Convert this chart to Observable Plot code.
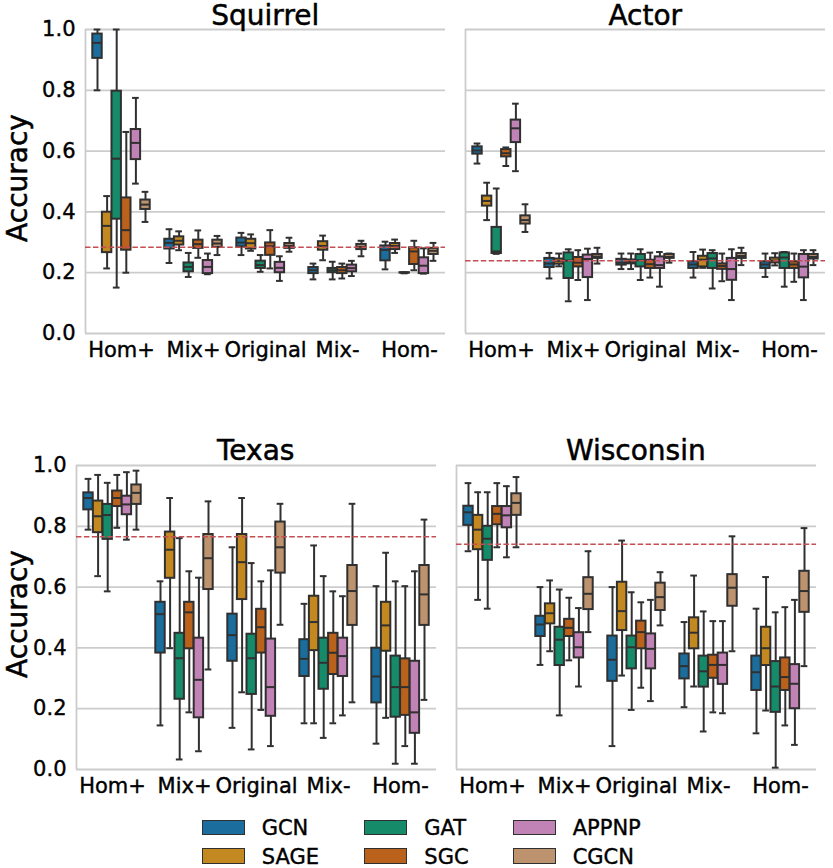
<!DOCTYPE html>
<html>
<head>
<meta charset="utf-8">
<script src="https://cdn.jsdelivr.net/npm/d3@7"></script>
<script src="https://cdn.jsdelivr.net/npm/@observablehq/plot@0.6"></script>
<style>
  html, body { margin: 0; padding: 0; background: #fff; }
  #root { position: relative; width: 833px; height: 868px; overflow: hidden; font-family: "DejaVu Sans", sans-serif; color: #000; }
  .abs { position: absolute; }
  .title { font-size: 28px; line-height: 28px; width: 360px; text-align: center; white-space: nowrap; -webkit-text-stroke: 0.5px #000; }
  .ylab { font-size: 28px; line-height: 28px; white-space: nowrap; transform: translate(-50%, -50%) rotate(-90deg); -webkit-text-stroke: 0.5px #000; }
  .sw { position: absolute; width: 41px; height: 13.5px; border: 1.5px solid #303030; }
  .lt { position: absolute; font-size: 21px; line-height: 14px; white-space: nowrap; -webkit-text-stroke: 0.4px #000; }
  svg.panel text { stroke: #000; stroke-width: 0.4px; }
</style>
</head>
<body>
<div id="root"></div>
<script>
// ---- data ----
const groups = ["Hom+", "Mix+", "Original", "Mix-", "Hom-"];
const models = ["GCN", "SAGE", "GAT", "SGC", "APPNP", "CGCN"];
const modelColors = ["#1a6d9c", "#c38820", "#168b6a", "#ba611b", "#c182b5", "#bd926e"];
const datasets = ["Squirrel", "Actor", "Texas", "Wisconsin"];
const baselines = [0.284, 0.239, 0.766, 0.741];
const yTicks = [0.0, 0.2, 0.4, 0.6, 0.8, 1.0];

// per group: one [min, q1, median, q3, max] per model (GCN, SAGE, GAT, SGC, APPNP, CGCN)
const squirrel = [
  [[.80,.905,.956,.985,1.0],[.214,.266,.354,.399,.452],[.151,.376,.575,.797,1.0],[.20,.274,.340,.446,.663],[.493,.572,.627,.671,.775],[.367,.408,.424,.439,.466]],
  [[.232,.278,.298,.310,.343],[.274,.291,.305,.318,.336],[.186,.203,.219,.232,.265],[.249,.280,.294,.307,.339],[.195,.197,.219,.240,.263],[.258,.283,.296,.307,.321]],
  [[.258,.285,.299,.314,.331],[.272,.278,.297,.310,.326],[.203,.214,.225,.238,.258],[.214,.257,.287,.298,.340],[.173,.200,.216,.234,.254],[.269,.280,.288,.296,.315]],
  [[.178,.197,.208,.217,.230],[.241,.274,.288,.302,.322],[.178,.200,.208,.214,.236],[.181,.197,.208,.217,.230],[.189,.203,.215,.225,.239],[.254,.276,.285,.293,.305]],
  [[.211,.239,.275,.288,.302],[.265,.276,.288,.296,.309],[.198,.199,.200,.200,.201],[.208,.227,.270,.282,.305],[.197,.197,.223,.249,.280],[.239,.260,.272,.280,.298]]
];
const actor = [
  [[.559,.590,.602,.614,.625],[.373,.419,.436,.452,.496],[.262,.263,.270,.349,.477],[.551,.581,.593,.605,.612],[.534,.628,.675,.702,.756],[.334,.360,.373,.387,.425]],
  [[.181,.217,.230,.247,.265],[.221,.228,.238,.245,.263],[.106,.181,.240,.265,.277],[.176,.219,.233,.250,.274],[.110,.184,.245,.258,.279],[.230,.247,.253,.260,.282]],
  [[.212,.225,.233,.244,.263],[.212,.229,.235,.242,.263],[.176,.219,.241,.260,.277],[.184,.214,.228,.241,.266],[.154,.214,.225,.252,.268],[.233,.247,.252,.260,.263]],
  [[.184,.214,.227,.236,.268],[.216,.219,.243,.254,.276],[.148,.214,.247,.263,.274],[.172,.211,.222,.229,.263],[.110,.175,.212,.247,.277],[.225,.247,.255,.263,.282]],
  [[.186,.214,.227,.236,.263],[.224,.232,.240,.248,.264],[.154,.214,.250,.265,.268],[.170,.214,.227,.236,.263],[.110,.183,.220,.260,.274],[.225,.245,.252,.260,.274]]
];
const texas = [
  [[.789,.854,.893,.910,.956],[.636,.779,.833,.883,.969],[.586,.757,.837,.872,.943],[.795,.865,.893,.916,.969],[.756,.838,.872,.899,.978],[.789,.872,.910,.936,.983]],
  [[.145,.383,.511,.550,.619],[.399,.629,.723,.781,.893],[.033,.231,.366,.448,.761],[.188,.397,.517,.550,.652],[.060,.170,.295,.432,.631],[.329,.592,.695,.773,.882]],
  [[.137,.356,.442,.511,.731],[.254,.559,.682,.773,.893],[.066,.247,.366,.445,.679],[.196,.383,.468,.527,.619],[.077,.175,.271,.429,.655],[.476,.646,.731,.814,.874]],
  [[.152,.306,.364,.427,.545],[.152,.391,.485,.570,.737],[.104,.264,.351,.432,.636],[.152,.3125,.384,.448,.586],[.178,.306,.373,.432,.570],[.221,.474,.587,.671,.874]],
  [[.085,.219,.306,.399,.603],[.170,.389,.474,.550,.713],[.019,.172,.271,.373,.619],[.077,.178,.271,.364,.603],[.019,.119,.188,.356,.652],[.229,.474,.576,.671,.822]]
];
const wisconsin = [
  [[.718,.803,.846,.866,.942],[.558,.723,.789,.836,.912],[.529,.688,.759,.800,.912],[.731,.805,.841,.865,.942],[.698,.795,.836,.865,.932],[.731,.836,.877,.907,.962]],
  [[.344,.4375,.477,.504,.600],[.389,.479,.514,.545,.622],[.178,.342,.427,.468,.592],[.359,.4375,.466,.494,.565],[.273,.367,.402,.450,.531],[.452,.526,.578,.631,.718]],
  [[.077,.290,.361,.439,.600],[.309,.457,.521,.616,.753],[.196,.331,.402,.439,.583],[.269,.397,.452,.488,.550],[.225,.331,.397,.446,.558],[.474,.523,.567,.613,.649]],
  [[.205,.298,.340,.380,.485],[.273,.397,.450,.499,.638],[.125,.271,.323,.373,.520],[.188,.300,.344,.376,.488],[.185,.280,.344,.383,.488],[.389,.537,.598,.641,.767]],
  [[.119,.260,.320,.373,.529],[.194,.342,.399,.468,.633],[.006,.188,.273,.355,.517],[.145,.260,.304,.367,.534],[.081,.200,.282,.345,.558],[.340,.517,.587,.652,.794]]
];
const stats = [squirrel, actor, texas, wisconsin];

// ---- layout (styling only) ----
const EDGE = "#303030";
const GRID = "#cccccc";
const xDomain = [-0.5, groups.length - 0.5];
const dodge = 0.8 / models.length;       // seaborn hue dodge
const half = dodge * 0.98 / 2;            // half box width
const capHalf = half / 2;                 // caps are half the box width
const ML = 60, MR = 10, MT = 10, MB = 40, FW = 360, FH = 304;
const panelPos = [
  { left: 85.3, top: 29.3, showY: true },
  { left: 465.3, top: 29.3, showY: false },
  { left: 75.7, top: 464.7, showY: true },
  { left: 455.8, top: 464.7, showY: false }
];

const root = document.getElementById("root");

function rowsFor(di) {
  const out = [];
  stats[di].forEach((g, gi) => g.forEach((s, mi) => {
    out.push({
      group: groups[gi], model: models[mi],
      x: gi + (mi - (models.length - 1) / 2) * dodge,
      min: s[0], q1: s[1], med: s[2], q3: s[3], max: s[4]
    });
  }));
  return out;
}

datasets.forEach((name, di) => {
  const pos = panelPos[di];
  const rows = rowsFor(di);
  const chart = Plot.plot({
    width: ML + FW + MR, height: MT + FH + MB,
    marginLeft: ML, marginRight: MR, marginTop: MT, marginBottom: MB,
    style: { background: "transparent", overflow: "visible", fontFamily: "DejaVu Sans, sans-serif", fontSize: "21px", color: "#000" },
    x: { domain: xDomain, ticks: groups.map((_, i) => i), tickFormat: (i) => groups[i], tickSize: 0, tickPadding: 9, label: null },
    y: pos.showY
      ? { domain: [0, 1], ticks: yTicks, tickFormat: d3.format(".1f"), tickSize: 0, tickPadding: 10, label: null }
      : { domain: [0, 1], axis: null },
    color: { domain: models, range: modelColors },
    marks: [
      Plot.ruleY(yTicks, { stroke: GRID, strokeWidth: 1.8 }),
      Plot.ruleX([xDomain[0]], { y1: 0, y2: 1, stroke: GRID, strokeWidth: 1.8 }),
      // whiskers
      Plot.ruleX(rows, { x: "x", y1: "min", y2: "q1", stroke: EDGE, strokeWidth: 2 }),
      Plot.ruleX(rows, { x: "x", y1: "q3", y2: "max", stroke: EDGE, strokeWidth: 2 }),
      // caps
      Plot.ruleY(rows, { y: "min", x1: (d) => d.x - capHalf, x2: (d) => d.x + capHalf, stroke: EDGE, strokeWidth: 2, strokeLinecap: "square" }),
      Plot.ruleY(rows, { y: "max", x1: (d) => d.x - capHalf, x2: (d) => d.x + capHalf, stroke: EDGE, strokeWidth: 2, strokeLinecap: "square" }),
      // boxes
      Plot.rect(rows, { x1: (d) => d.x - half, x2: (d) => d.x + half, y1: "q1", y2: "q3", fill: "model", stroke: EDGE, strokeWidth: 2 }),
      // medians
      Plot.ruleY(rows, { y: "med", x1: (d) => d.x - half, x2: (d) => d.x + half, stroke: EDGE, strokeWidth: 2 }),
      // baseline
      Plot.ruleY([baselines[di]], { stroke: "#c44e52", strokeWidth: 1.5, strokeDasharray: "5.5,2.4" })
    ]
  });
  chart.classList.add("panel");
  chart.style.position = "absolute";
  chart.style.left = (pos.left - ML) + "px";
  chart.style.top = (pos.top - MT) + "px";
  chart.style.maxWidth = "none";
  root.appendChild(chart);

  const t = document.createElement("div");
  t.className = "abs title";
  t.textContent = name;
  t.style.left = pos.left + "px";
  t.style.top = (pos.top - 27.6) + "px";
  root.appendChild(t);

  if (pos.showY) {
    const yl = document.createElement("div");
    yl.className = "abs ylab";
    yl.textContent = "Accuracy";
    yl.style.left = "17.5px";
    yl.style.top = (pos.top + FH / 2 - 3) + "px";
    root.appendChild(yl);
  }
});

// ---- legend (column-major, 3 columns) ----
const legCols = [201.7, 364.3, 512.7];
const legRows = [828.2, 856.7];
models.forEach((m, i) => {
  const col = Math.floor(i / 2), row = i % 2;
  const sw = document.createElement("div");
  sw.className = "sw";
  sw.style.background = modelColors[i];
  sw.style.left = legCols[col] + "px";
  sw.style.top = (legRows[row] - 8.25) + "px";
  root.appendChild(sw);
  const lt = document.createElement("div");
  lt.className = "lt";
  lt.textContent = m;
  lt.style.left = (legCols[col] + 60) + "px";
  lt.style.top = (legRows[row] - 6.8) + "px";
  root.appendChild(lt);
});
</script>
</body>
</html>
